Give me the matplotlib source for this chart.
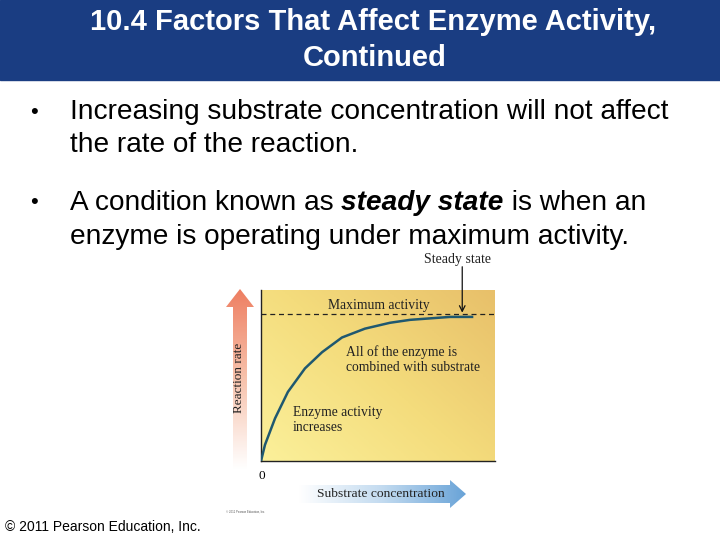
import matplotlib
matplotlib.use('Agg')
import matplotlib.pyplot as plt
import numpy as np
from matplotlib.patches import Polygon, Rectangle
from matplotlib.colors import LinearSegmentedColormap

# substrate concentration (arbitrary units) vs reaction rate (fraction of max)
substrate = [0, 0.17, 0.60, 1.15, 1.88, 2.61, 3.46, 4.44, 5.51, 6.37, 7.22, 8.08, 9.02]
rate = [0, 0.11, 0.29, 0.47, 0.63, 0.74, 0.84, 0.90, 0.94, 0.96, 0.97, 0.98, 0.98]
max_activity = 1.0

title_lines = ['10.4 Factors That Affect Enzyme Activity,', 'Continued']
bullet1 = ['Increasing substrate concentration will not affect', 'the rate of the reaction.']
bullet2 = ['A condition known as ', 'steady state', ' is when an',
           'enzyme is operating under maximum activity.']

fig = plt.figure(figsize=(7.2, 5.4), dpi=100)
fig.patch.set_facecolor('white')

# overlay in pixel coords
ov = fig.add_axes([0, 0, 1, 1])
ov.axis('off')

ov.add_patch(Rectangle((0, 0), 720, 80, color='#1a3d82', zorder=1))
sans = ['Liberation Sans', 'DejaVu Sans']
ov.text(373, 22, title_lines[0], color='white', fontsize=21, fontweight='bold',
        family=sans, ha='center', va='center', zorder=2)
ov.text(375, 58, title_lines[1], color='white', fontsize=21, fontweight='bold',
        family=sans, ha='center', va='center', zorder=2)

fs = 20.2
ov.set_xlim(0, 720)
ov.set_ylim(540, 0)
ov.text(30, 112, '\u2022', fontsize=16, family=sans, va='center')
ov.text(70, 112, bullet1[0], fontsize=fs, family=sans, va='center')
ov.text(70, 145, bullet1[1], fontsize=fs, family=sans, va='center')
ov.text(30, 203, '\u2022', fontsize=16, family=sans, va='center')

fig.canvas.draw()
r = fig.canvas.get_renderer()
def width_px(s, **kw):
    t = ov.text(0, 0, s, fontsize=fs, family=sans, **kw)
    bb = t.get_window_extent(renderer=r)
    t.remove()
    return bb.width

x = 70
ov.text(x, 203, bullet2[0], fontsize=fs, family=sans, va='center')
x += width_px(bullet2[0])
ov.text(x, 203, bullet2[1], fontsize=fs, family=sans, va='center',
        fontweight='bold', style='italic')
x += width_px(bullet2[1], fontweight='bold', style='italic')
ov.text(x, 203, bullet2[2], fontsize=fs, family=sans, va='center')
ov.text(70, 237, bullet2[3], fontsize=fs, family=sans, va='center')

ov.text(5, 527, '\u00a9 2011 Pearson Education, Inc.', fontsize=10, family=sans,
        va='center')
ov.text(226, 512, '\u00a9 2011 Pearson Education, Inc.', fontsize=2, family=sans,
        va='center', color='#555555')

# gradient arrows
def grad_arrow(poly, extent, img, cmap):
    p = Polygon(poly, closed=True, facecolor='none', edgecolor='none')
    ov.add_patch(p)
    im = ov.imshow(img, extent=extent, cmap=cmap, aspect='auto', zorder=1, vmin=0, vmax=1)
    im.set_clip_path(p)

red_cm = LinearSegmentedColormap.from_list('r', ['#ffffff', '#f7c3ad', '#ee7f62'])
blue_cm = LinearSegmentedColormap.from_list('b', ['#ffffff', '#c3dbf0', '#6aa4d8'])

vert = [(233, 470), (233, 307), (226, 307), (240, 289), (254, 307), (247, 307), (247, 470)]
grad_arrow(vert, (220, 260, 470, 289), np.linspace(1, 0, 100)[:, None] * np.ones((1, 2)), red_cm)
horiz = [(298, 485), (450, 485), (450, 480), (466, 494), (450, 508), (450, 503), (298, 503)]
grad_arrow(horiz, (298, 466, 510, 478), np.ones((2, 1)) * np.linspace(0, 1, 100)[None, :], blue_cm)
ov.set_xlim(0, 720)
ov.set_ylim(540, 0)

serif = ['Liberation Serif', 'DejaVu Serif']
ov.text(239, 378, 'Reaction rate', rotation=90, fontsize=9.5, family=serif,
        ha='center', va='center', color='#222222', zorder=3)
ov.text(381, 494, 'Substrate concentration', fontsize=9.7, family=serif,
        ha='center', va='center', color='#222222', zorder=3)
ov.text(262, 476, '0', fontsize=9.5, family=serif, ha='center', va='center')
ov.text(458, 260, 'Steady state', fontsize=10, family=serif, ha='center', va='center',
        color='#222222')

# chart
ax = fig.add_axes([261 / 720, (540 - 461) / 540, 234 / 720, 171 / 540])
xmax = 10.0
ymax = 1.163
gx, gy = np.meshgrid(np.linspace(0, 1, 100), np.linspace(0, 1, 100))
g = (gx * 0.55 + gy * 0.45)
bg_cm = LinearSegmentedColormap.from_list('bg', ['#fbf09a', '#f4dc7c', '#e8c06a'])
ax.imshow(g, extent=(0, xmax, 0, ymax), origin='lower', cmap=bg_cm, aspect='auto', zorder=0)
ax.plot(substrate, rate, color='#1f5870', lw=1.8, zorder=3)
ax.axhline(max_activity, color='#222222', lw=0.9, ls=(0, (4, 3)), zorder=2)
ax.set_xlim(0, xmax)
ax.set_ylim(0, ymax)
ax.set_xticks([])
ax.set_yticks([])
for s in ['top', 'right']:
    ax.spines[s].set_visible(False)
for s in ['left', 'bottom']:
    ax.spines[s].set_color('#222222')
    ax.spines[s].set_linewidth(1.0)

ax.text(5.04, 1.06, 'Maximum activity', fontsize=9.8,
        family=serif, va='center', ha='center', color='#222222')
ax.text(3.65, 0.69, 'All of the enzyme is\ncombined with substrate', fontsize=9.8,
        family=serif, va='center', ha='left', color='#222222', linespacing=1.15)
ax.text(1.35, 0.28, 'Enzyme activity\nincreases', fontsize=9.8,
        family=serif, va='center', ha='left', color='#222222', linespacing=1.15)
ax.annotate('', xy=(8.6, 0.99), xytext=(8.6, 1.34), annotation_clip=False,
            arrowprops=dict(arrowstyle='->', color='#111111', lw=0.9))

fig.savefig('out.png', dpi=100)
